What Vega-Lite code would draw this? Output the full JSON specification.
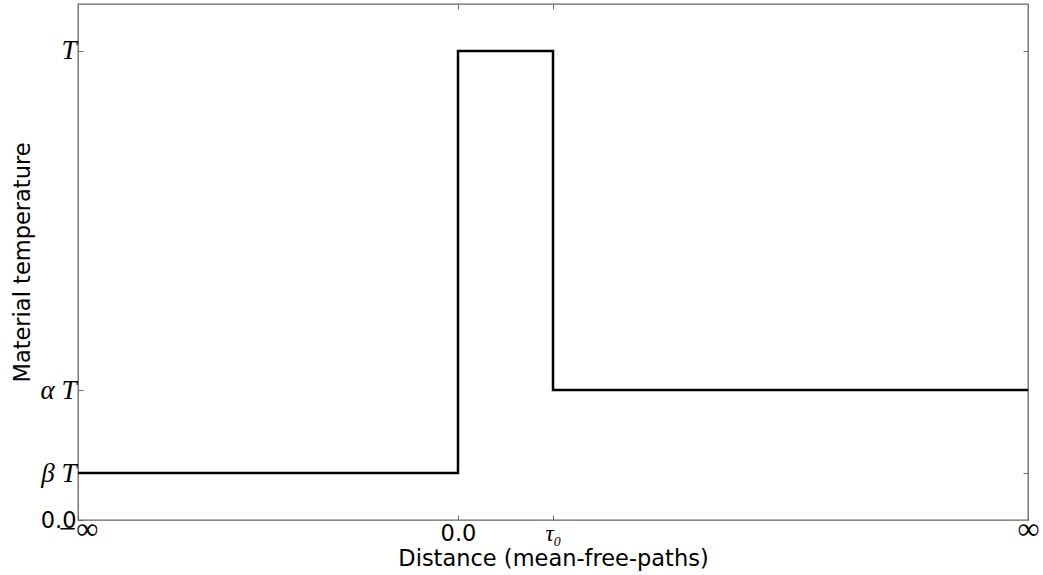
{
  "$schema": "https://vega.github.io/schema/vega-lite/v6.json",
  "autosize": "none",
  "width": 950,
  "height": 516,
  "padding": {"left": 78, "top": 4, "right": 15, "bottom": 55},
  "background": "white",
  "config": {"view": {"stroke": "#666", "strokeWidth": 1.3}},
  "data": {"values": [
    {"x": -4, "y": 0.1},
    {"x": 0, "y": 1},
    {"x": 1, "y": 0.277},
    {"x": 6, "y": 0.277}
  ]},
  "layer": [
    {
      "mark": {"type": "line", "interpolate": "step-after", "color": "black", "strokeWidth": 2.5, "clip": true},
      "encoding": {
        "x": {"field": "x", "type": "quantitative", "scale": {"domain": [-4, 6], "nice": false, "zero": false},
          "axis": {"orient": "bottom", "values": [-4, 0, 1, 6], "domain": false, "grid": false,
            "tickSize": -5, "tickColor": "#666",
            "labelExpr": "datum.value == -4 ? '−∞' : datum.value == 0 ? '0.0' : datum.value == 1 ? 'τ₀' : '∞'",
            "labelFont": {"condition": {"test": "datum.value == 0", "value": "DejaVu Sans"}, "value": "Liberation Serif"},
            "labelFontStyle": {"condition": {"test": "datum.value == 1", "value": "italic"}, "value": "normal"},
            "labelFontSize": {"condition": [{"test": "datum.value == 0", "value": 22.5}, {"test": "datum.value == 1", "value": 23}], "value": 31},
            "labelBaseline": {"condition": {"test": "datum.value == -4 || datum.value == 6", "value": "middle"}, "value": "top"},
            "labelPadding": {"condition": {"test": "datum.value == -4 || datum.value == 6", "value": 14}, "value": 7},
            "labelColor": "black",
            "labelFlush": false, "labelOverlap": false, "labelBound": false,
            "title": "Distance (mean-free-paths)", "titleFont": "DejaVu Sans", "titleFontSize": 22.5,
            "titleFontWeight": "normal", "titleColor": "black", "titleBaseline": "alphabetic", "titleY": 45}},
        "y": {"field": "y", "type": "quantitative", "scale": {"domain": [0, 1.1], "nice": false},
          "axis": {"orient": "left", "values": [0, 0.1, 0.277, 1], "domain": false, "grid": false,
            "tickSize": -5, "tickColor": "#666",
            "labelExpr": "datum.value == 0 ? '0.0' : datum.value == 1 ? 'T' : datum.value < 0.2 ? 'β T' : 'α T'",
            "labelFont": {"condition": {"test": "datum.value == 0", "value": "DejaVu Sans"}, "value": "Liberation Serif"},
            "labelFontStyle": {"condition": {"test": "datum.value == 0", "value": "normal"}, "value": "italic"},
            "labelFontSize": {"condition": {"test": "datum.value == 0", "value": 22.5}, "value": 27},
            "labelColor": "black", "labelPadding": 7,
            "labelFlush": false, "labelOverlap": false, "labelBound": false,
            "title": "Material temperature", "titleFont": "DejaVu Sans", "titleFontSize": 22.5,
            "titleFontWeight": "normal", "titleColor": "black", "titlePadding": 6}}
      }
    },
    {
      "mark": {"type": "line", "opacity": 0},
      "encoding": {
        "x": {"field": "x", "type": "quantitative", "scale": {"domain": [-4, 6], "nice": false, "zero": false},
          "axis": {"orient": "top", "values": [0, 1], "domain": false, "grid": false, "labels": false, "title": null,
            "tickSize": -5, "tickColor": "#666"}},
        "y": {"field": "y", "type": "quantitative", "scale": {"domain": [0, 1.1], "nice": false},
          "axis": {"orient": "right", "values": [0.1, 0.277, 1], "domain": false, "grid": false, "labels": false, "title": null,
            "tickSize": -5, "tickColor": "#666"}}
      }
    }
  ],
  "resolve": {"axis": {"x": "independent", "y": "independent"}}
}
